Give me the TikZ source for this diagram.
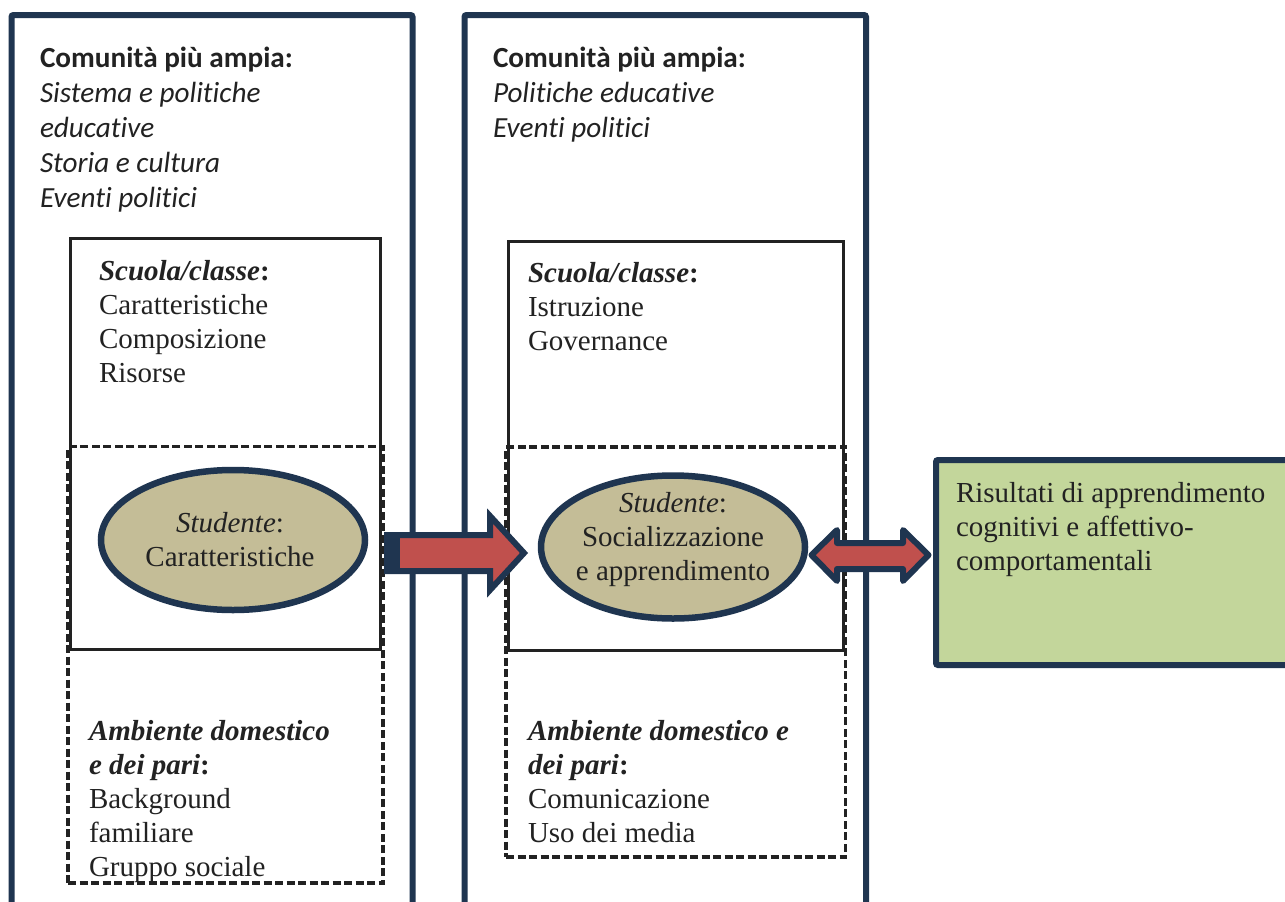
\documentclass[tikz,border=0pt]{standalone}
\usepackage{fontspec}
\setmainfont{Liberation Serif}
\newfontfamily\calfont[Ligatures=NoCommon]{Carlito}
\usetikzlibrary{shapes.geometric}
\definecolor{navy}{HTML}{1F3550}
\definecolor{arrowred}{HTML}{C0504D}
\definecolor{tanfill}{HTML}{C4BD97}
\definecolor{resgreen}{HTML}{C3D69B}
\definecolor{ink}{HTML}{222222}
\tikzset{
  every node/.style={outer sep=0pt},
  outerbox/.style={draw=navy, line width=6pt, rounded corners=2pt, rectangle, inner sep=0pt, anchor=north west},
  solidbox/.style={draw=ink, line width=3pt, rectangle, inner sep=0pt, anchor=north west},
  dashbox/.style={draw=ink, line width=3.3pt, dash pattern=on 8pt off 3.5pt, rectangle, inner sep=0pt, anchor=north west},
  stud/.style={ellipse, draw=navy, line width=6.5pt, fill=tanfill, inner sep=0pt},
  sanstxt/.style={anchor=base west, inner sep=0pt, text=ink, font=\calfont\fontsize{29.2}{35}\selectfont},
  seriftxt/.style={anchor=base west, inner sep=0pt, text=ink, font=\fontsize{29}{34}\selectfont},
  centtxt/.style={anchor=base, inner sep=0pt, text=ink, font=\fontsize{29}{34}\selectfont},
  bigarrow/.style={draw=navy, line width=6pt, fill=arrowred},
}
\begin{document}
\begin{tikzpicture}[x=1pt,y=-1pt]
\useasboundingbox (0,0) rectangle (1285,902);
\clip (0,0) rectangle (1285,902);
\fill[white] (0,0) rectangle (1285,902);
% outer boxes
\node[outerbox, minimum width=401pt, minimum height=940pt] (outer1) at (11.5,15) {};
\node[outerbox, minimum width=401.5pt, minimum height=940pt] (outer2) at (464.5,15) {};
% inner boxes
\node[solidbox, minimum width=310pt, minimum height=411pt] (school1) at (70.5,238.5) {};
\node[dashbox, minimum width=315pt, minimum height=436.5pt] (home1) at (68,446.5) {};
\node[solidbox, minimum width=334.5pt, minimum height=409pt] (school2) at (508.5,241) {};
\node[dashbox, minimum width=339.5pt, minimum height=410pt] (home2) at (506,447) {};
% ellipses
\node[stud, minimum width=264pt, minimum height=140pt] (e1) at (233,540) {};
\node[stud, minimum width=264pt, minimum height=143pt] (e2) at (673,547) {};
% result box
\node[draw=navy, line width=6pt, fill=resgreen, rounded corners=2pt, rectangle, inner sep=0pt, anchor=north west, minimum width=400pt, minimum height=205pt] (res) at (936,460) {};
% arrow 1
\draw[bigarrow, line join=miter] (387,535) -- (490,535) -- (490,516) -- (524,553) -- (490,590) -- (490,571) -- (387,571) -- cycle;
\fill[navy] (384,532) rectangle (400,574);
% double arrow
\draw[bigarrow, line join=round] (811.5,555) -- (837,530) -- (837,543) -- (903,543) -- (903,530) -- (928.5,555) -- (903,581) -- (903,569) -- (837,569) -- (837,581) -- cycle;
% texts
\node[sanstxt] (t1) at (40,67) {\vtop{\hbox{\bfseries Comunità più ampia:}\hbox{\itshape Sistema e politiche}\hbox{\itshape educative}\hbox{\itshape Storia e cultura}\hbox{\itshape Eventi politici}}};
\node[sanstxt] (t2) at (493,67) {\vtop{\hbox{\bfseries Comunità più ampia:}\hbox{\itshape Politiche educative}\hbox{\itshape Eventi politici}}};
\node[seriftxt] (s1) at (99,280) {\vtop{\hbox{\bfseries\itshape Scuola/classe\upshape:}\hbox{Caratteristiche}\hbox{Composizione}\hbox{Risorse}}};
\node[seriftxt] (s2) at (528,282) {\vtop{\hbox{\bfseries\itshape Scuola/classe\upshape:}\hbox{Istruzione}\hbox{Governance}}};
\node[seriftxt] (h1) at (89,740) {\vtop{\hbox{\bfseries\itshape Ambiente domestico}\hbox{\bfseries\itshape e dei pari\upshape:}\hbox{Background}\hbox{familiare}\hbox{Gruppo sociale}}};
\node[seriftxt] (h2) at (528,740) {\vtop{\hbox{\bfseries\itshape Ambiente domestico e}\hbox{\bfseries\itshape dei pari\upshape:}\hbox{Comunicazione}\hbox{Uso dei media}}};
\node[centtxt] (e1t) at (230,532) {\vtop{\halign{\hfil#\hfil\cr \itshape Studente\upshape:\cr Caratteristiche\cr}}};
\node[centtxt] (e2t) at (673,512) {\vtop{\halign{\hfil#\hfil\cr \itshape Studente\upshape:\cr Socializzazione\cr e apprendimento\cr}}};
\node[seriftxt] (rt) at (956,502) {\vtop{\hbox{Risultati di apprendimento}\hbox{cognitivi e affettivo-}\hbox{comportamentali}}};
\end{tikzpicture}
\end{document}
